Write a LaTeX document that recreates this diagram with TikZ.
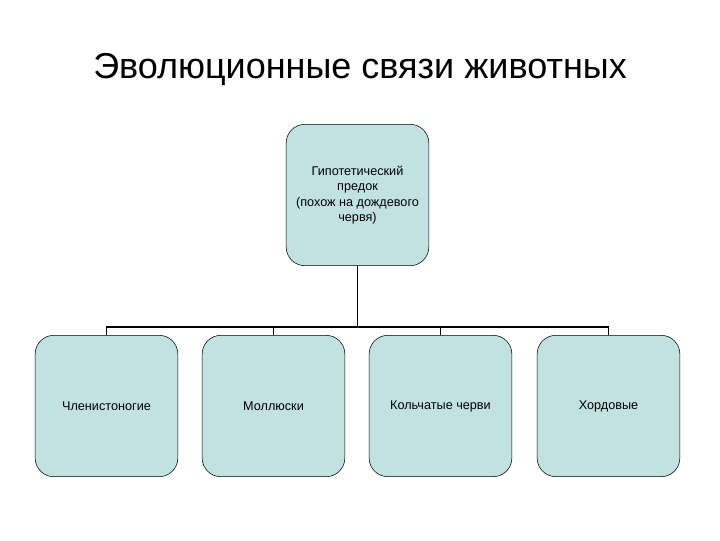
\documentclass[tikz,border=0pt]{standalone}
\usepackage{fontspec}
\setmainfont{Liberation Sans}
\definecolor{boxfill}{HTML}{C2E2E2}
\begin{document}
\begin{tikzpicture}[x=0.75pt,y=-0.75pt,
  box/.style={draw=black,fill=boxfill,rounded corners=14pt,minimum width=107pt,minimum height=106pt,inner sep=0pt,align=center,font=\fontsize{9.5}{11.5}\selectfont},
  link/.style={draw=black,line width=1.1pt}]
\useasboundingbox (0,0) rectangle (720,540);
\node[font=\fontsize{27}{32}\selectfont] (title) at (360,70) {Эволюционные связи животных};
\node[box] (top) at (357.5,195) {Гипотетический\\предок\\(похож на дождевого\\червя)};
\node[box] (b1) at (106.5,406) {Членистоногие};
\node[box] (b2) at (273.5,406) {Моллюски};
\node[box] (b3) at (440.5,406) {Кольчатые черви};
\node[box] (b4) at (608.5,406) {Хордовые};
\coordinate (bus) at (357.5,327);
\draw[link] (top.south) -- (bus);
\draw[link] (b1.north) -- (b1.north |- bus) -- (b4.north |- bus) -- (b4.north);
\draw[link] (b2.north) -- (b2.north |- bus);
\draw[link] (b3.north) -- (b3.north |- bus);
\end{tikzpicture}
\end{document}
